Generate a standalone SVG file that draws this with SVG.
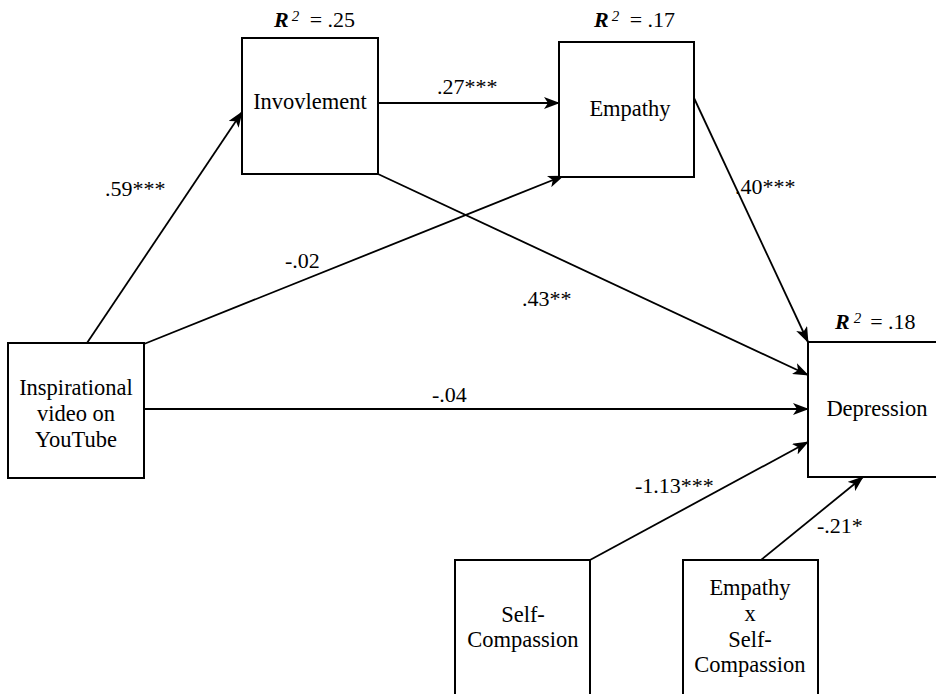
<svg xmlns="http://www.w3.org/2000/svg" width="936" height="694" viewBox="0 0 936 694">
<style>
.box{fill:#fff;stroke:#000;stroke-width:2}
text{font-family:'Liberation Serif','Times New Roman',serif;fill:#000}
.t{text-anchor:middle;font-size:22.5px}
.l{font-size:22px}
.c{stroke:#000;stroke-width:1.8;fill:none;marker-end:url(#ah)}
</style>
<defs>
<marker id="ah" markerUnits="userSpaceOnUse" markerWidth="16" markerHeight="12" refX="15" refY="6" orient="auto">
<path d="M0,0 L16,6 L0,12 L4,6 Z" fill="#000"/>
</marker>
</defs>
<rect width="936" height="694" fill="#fff"/>
<g id="connectors">
<line class="c" x1="87" y1="343" x2="242" y2="112"/>
<line class="c" x1="378" y1="103" x2="559" y2="103"/>
<line class="c" x1="144" y1="344" x2="563" y2="176"/>
<line class="c" x1="378" y1="174" x2="808" y2="375"/>
<line class="c" x1="694" y1="98" x2="808" y2="342"/>
<line class="c" x1="144" y1="409" x2="808" y2="409"/>
<line class="c" x1="590" y1="560" x2="808" y2="442"/>
<line class="c" x1="761" y1="560" x2="863" y2="477"/>
</g>
<g id="labels">
<text class="l" x="105" y="196">.59***</text>
<text class="l" x="437" y="94">.27***</text>
<text class="l" x="285" y="268">-.02</text>
<text class="l" x="522" y="306">.43**</text>
<text class="l" x="735" y="194">.40***</text>
<text class="l" x="432" y="402">-.04</text>
<text class="l" x="635" y="493">-1.13***</text>
<text class="l" x="817" y="533">-.21*</text>
</g>
<g id="involvement">
<rect class="box" x="242" y="38" width="136" height="136"/>
<text class="t" x="310" y="109">Invovlement</text>
<text class="l" x="274" y="27"><tspan font-weight="bold" font-style="italic">R</tspan><tspan font-style="italic" font-size="15" dx="3" dy="-6">2</tspan><tspan dx="5" dy="6"> = .25</tspan></text>
</g>
<g id="empathy">
<rect class="box" x="559" y="42" width="135" height="135"/>
<text class="t" x="630" y="116">Empathy</text>
<text class="l" x="594" y="27"><tspan font-weight="bold" font-style="italic">R</tspan><tspan font-style="italic" font-size="15" dx="3" dy="-6">2</tspan><tspan dx="5" dy="6"> = .17</tspan></text>
</g>
<g id="inspirational">
<rect class="box" x="8" y="343" width="136" height="135"/>
<text class="t" x="76" y="395">Inspirational</text>
<text class="t" x="76" y="421">video on</text>
<text class="t" x="76" y="447">YouTube</text>
</g>
<g id="depression">
<rect class="box" x="808" y="342" width="140" height="135"/>
<text class="t" x="877" y="416">Depression</text>
<text class="l" x="835" y="329"><tspan font-weight="bold" font-style="italic">R</tspan><tspan font-style="italic" font-size="15" dx="4" dy="-6">2</tspan><tspan dx="9" dy="6">= .18</tspan></text>
</g>
<g id="selfcompassion">
<rect class="box" x="455" y="560" width="135" height="145"/>
<text class="t" x="523" y="622">Self-</text>
<text class="t" x="523" y="647">Compassion</text>
</g>
<g id="interaction">
<rect class="box" x="683" y="560" width="135" height="145"/>
<text class="t" x="750" y="595">Empathy</text>
<text class="t" x="750" y="621">x</text>
<text class="t" x="750" y="647">Self-</text>
<text class="t" x="750" y="672">Compassion</text>
</g>
</svg>
